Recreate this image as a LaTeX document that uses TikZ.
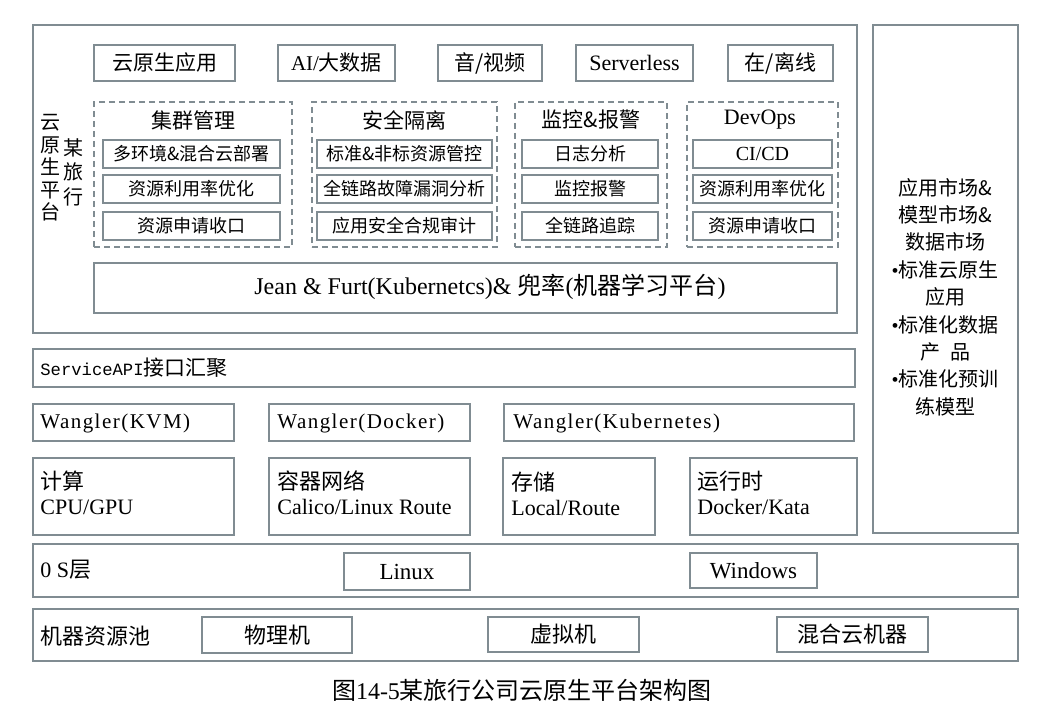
\documentclass[tikz,border=0pt]{standalone}
\usepackage{fontspec}
\setmainfont{Liberation Serif}
\newfontfamily\zh{Noto Sans CJK SC}
\newfontfamily\mono{Liberation Mono}
\newfontfamily\wide[LetterSpace=7]{Liberation Serif}
\usetikzlibrary{fit}
\definecolor{edgegray}{RGB}{128,140,146}
\begin{document}
\begin{tikzpicture}[
        x=0.5pt,
        y=-0.5pt,
        box/.style={draw=edgegray, line width=0.8pt, inner sep=0pt},
        grpbox/.style={box, dash pattern=on 3pt off 2pt},
        zhtext/.style={font={\zh\fontsize{10.5}{12}\selectfont}},
        small/.style={font={\zh\fontsize{9}{10}\selectfont}},
        big/.style={font={\zh\fontsize{11}{12.5}\selectfont}},
        lefttext/.style={anchor=west, inner sep=0pt},
        wangler/.style={lefttext, font={\wide\fontsize{10.5}{12}\selectfont}}
    ]
    \path[use as bounding box, fill=white] (0,0) rectangle (1050,717);

    \node[box, fit={(33,25) (857,333)}] (cloud) {};
    \node[box, fit={(873,25) (1018,533)}] (market) {};
    \node[align=center, font={\zh\fontsize{10}{11.25}\selectfont}] (side1) at (50,168) {云\\原\\生\\平\\台};
    \node[align=center, font={\zh\fontsize{10}{12.25}\selectfont}] (side2) at (73,172) {某\\旅\\行};

    \node[box, fit={(94,45) (235,81)}, label={[zhtext]center:云原生应用}] (app1) {};
    \node[box, fit={(278,45) (395,81)}, label={[zhtext]center:{\rmfamily AI/}大数据}] (app2) {};
    \node[box, fit={(438,45) (542,81)}, label={[zhtext]center:音/视频}] (app3) {};
    \node[box, fit={(576,45) (693,81)}, label={[font=\fontsize{11}{12}\selectfont]center:Serverless}] (app4) {};
    \node[box, fit={(728,45) (833,81)}, label={[zhtext]center:在/离线}] (app5) {};

    \node[grpbox, fit={(94,102) (292,247)}] (grp1) {};
    \node[zhtext] (grp1t) at (193,120) {集群管理};
    \node[box, fit={(103,140) (280,168)}, label={[small]center:多环境\&混合云部署}] (g1a) {};
    \node[box, fit={(103,175) (280,203)}, label={[small]center:资源利用率优化}] (g1b) {};
    \node[box, fit={(103,212) (280,240)}, label={[small]center:资源申请收口}] (g1c) {};

    \node[grpbox, fit={(312,102) (497,247)}] (grp2) {};
    \node[zhtext] (grp2t) at (404,120) {安全隔离};
    \node[box, fit={(317,140) (492,168)}, label={[small]center:标准\&非标资源管控}] (g2a) {};
    \node[box, fit={(317,175) (492,203)}, label={[small]center:全链路故障漏洞分析}] (g2b) {};
    \node[box, fit={(317,212) (492,240)}, label={[small]center:应用安全合规审计}] (g2c) {};

    \node[grpbox, fit={(515,102) (667,247)}] (grp3) {};
    \node[zhtext] (grp3t) at (591,120) {监控\&报警};
    \node[box, fit={(522,140) (658,168)}, label={[small]center:日志分析}] (g3a) {};
    \node[box, fit={(522,175) (658,203)}, label={[small]center:监控报警}] (g3b) {};
    \node[box, fit={(522,212) (658,240)}, label={[small]center:全链路追踪}] (g3c) {};

    \node[grpbox, fit={(687,102) (838,247)}] (grp4) {};
    \node[font=\fontsize{11}{12}\selectfont] (grp4t) at (760,120) {DevOps};
    \node[box, fit={(693,140) (832,168)}, label={[font=\fontsize{10}{11}\selectfont]center:CI/CD}] (g4a) {};
    \node[box, fit={(693,175) (832,203)}, label={[small]center:资源利用率优化}] (g4b) {};
    \node[box, fit={(693,212) (832,240)}, label={[small]center:资源申请收口}] (g4c) {};

    \node[box, fit={(94,263) (837,313)}] (ml) {};
    \node[font=\fontsize{12}{14}\selectfont] (mlt) at (490,287) {Jean \& Furt(Kubernetcs)\& {\zh 兜率}({\zh 机器学习平台})};

    \node[box, fit={(33,349) (855,387)}] (api) {};
    \node[lefttext, zhtext] (apit) at (40,368) {{\mono\fontsize{8.6}{10}\selectfont ServiceAPI}接口汇聚};

    \node[box, fit={(33,404) (234,441)}] (kvm) {};
    \node[wangler] (kvmt) at (40,423) {Wangler(KVM)};
    \node[box, fit={(269,404) (470,441)}] (dock) {};
    \node[wangler] (dockt) at (277,423) {Wangler(Docker)};
    \node[box, fit={(504,404) (854,441)}] (kube) {};
    \node[wangler] (kubet) at (513,423) {Wangler(Kubernetes)};

    \node[box, fit={(33,458) (234,535)}] (cpu) {};
    \node[lefttext, align=left, big] (cput) at (40,493) {计算\\{\rmfamily CPU/GPU}};
    \node[box, fit={(269,458) (470,535)}] (net) {};
    \node[lefttext, align=left, big] (nett) at (277,493) {容器网络\\{\rmfamily Calico/Linux Route}};
    \node[box, fit={(503,458) (655,535)}] (sto) {};
    \node[lefttext, align=left, big] (stot) at (511,494) {存储\\{\rmfamily Local/Route}};
    \node[box, fit={(690,458) (857,535)}] (run) {};
    \node[lefttext, align=left, big] (runt) at (697,493) {运行时\\{\rmfamily Docker/Kata}};

    \node[align=center, font={\zh\fontsize{10}{13.7}\selectfont}] (markett) at (945,297) {应用市场\&\\模型市场\&\\数据市场\\{\rmfamily\textbullet}标准云原生\\应用\\{\rmfamily\textbullet}标准化数据\\产\hspace{0.5em}品\\{\rmfamily\textbullet}标准化预训\\练模型};

    \node[box, fit={(33,544) (1018,597)}] (os) {};
    \node[lefttext, big] (ost) at (40,570) {{\rmfamily 0 S}层};
    \node[box, fit={(344,553) (470,590)}, label={[font=\fontsize{11.5}{13}\selectfont]center:Linux}] (linux) {};
    \node[box, fit={(690,553) (817,588)}, label={[font=\fontsize{11.5}{13}\selectfont]center:Windows}] (win) {};

    \node[box, fit={(33,609) (1018,661)}] (pool) {};
    \node[lefttext, big] (poolt) at (40,636) {机器资源池};
    \node[box, fit={(202,617) (352,653)}, label={[big]center:物理机}] (phy) {};
    \node[box, fit={(488,617) (639,652)}, label={[big]center:虚拟机}] (vm) {};
    \node[box, fit={(777,617) (928,652)}, label={[big]center:混合云机器}] (hyb) {};

    \node[font={\zh\fontsize{12}{14}\selectfont}] (cap) at (522,690) {图{\rmfamily 14-5}某旅行公司云原生平台架构图};
\end{tikzpicture}
\end{document}
